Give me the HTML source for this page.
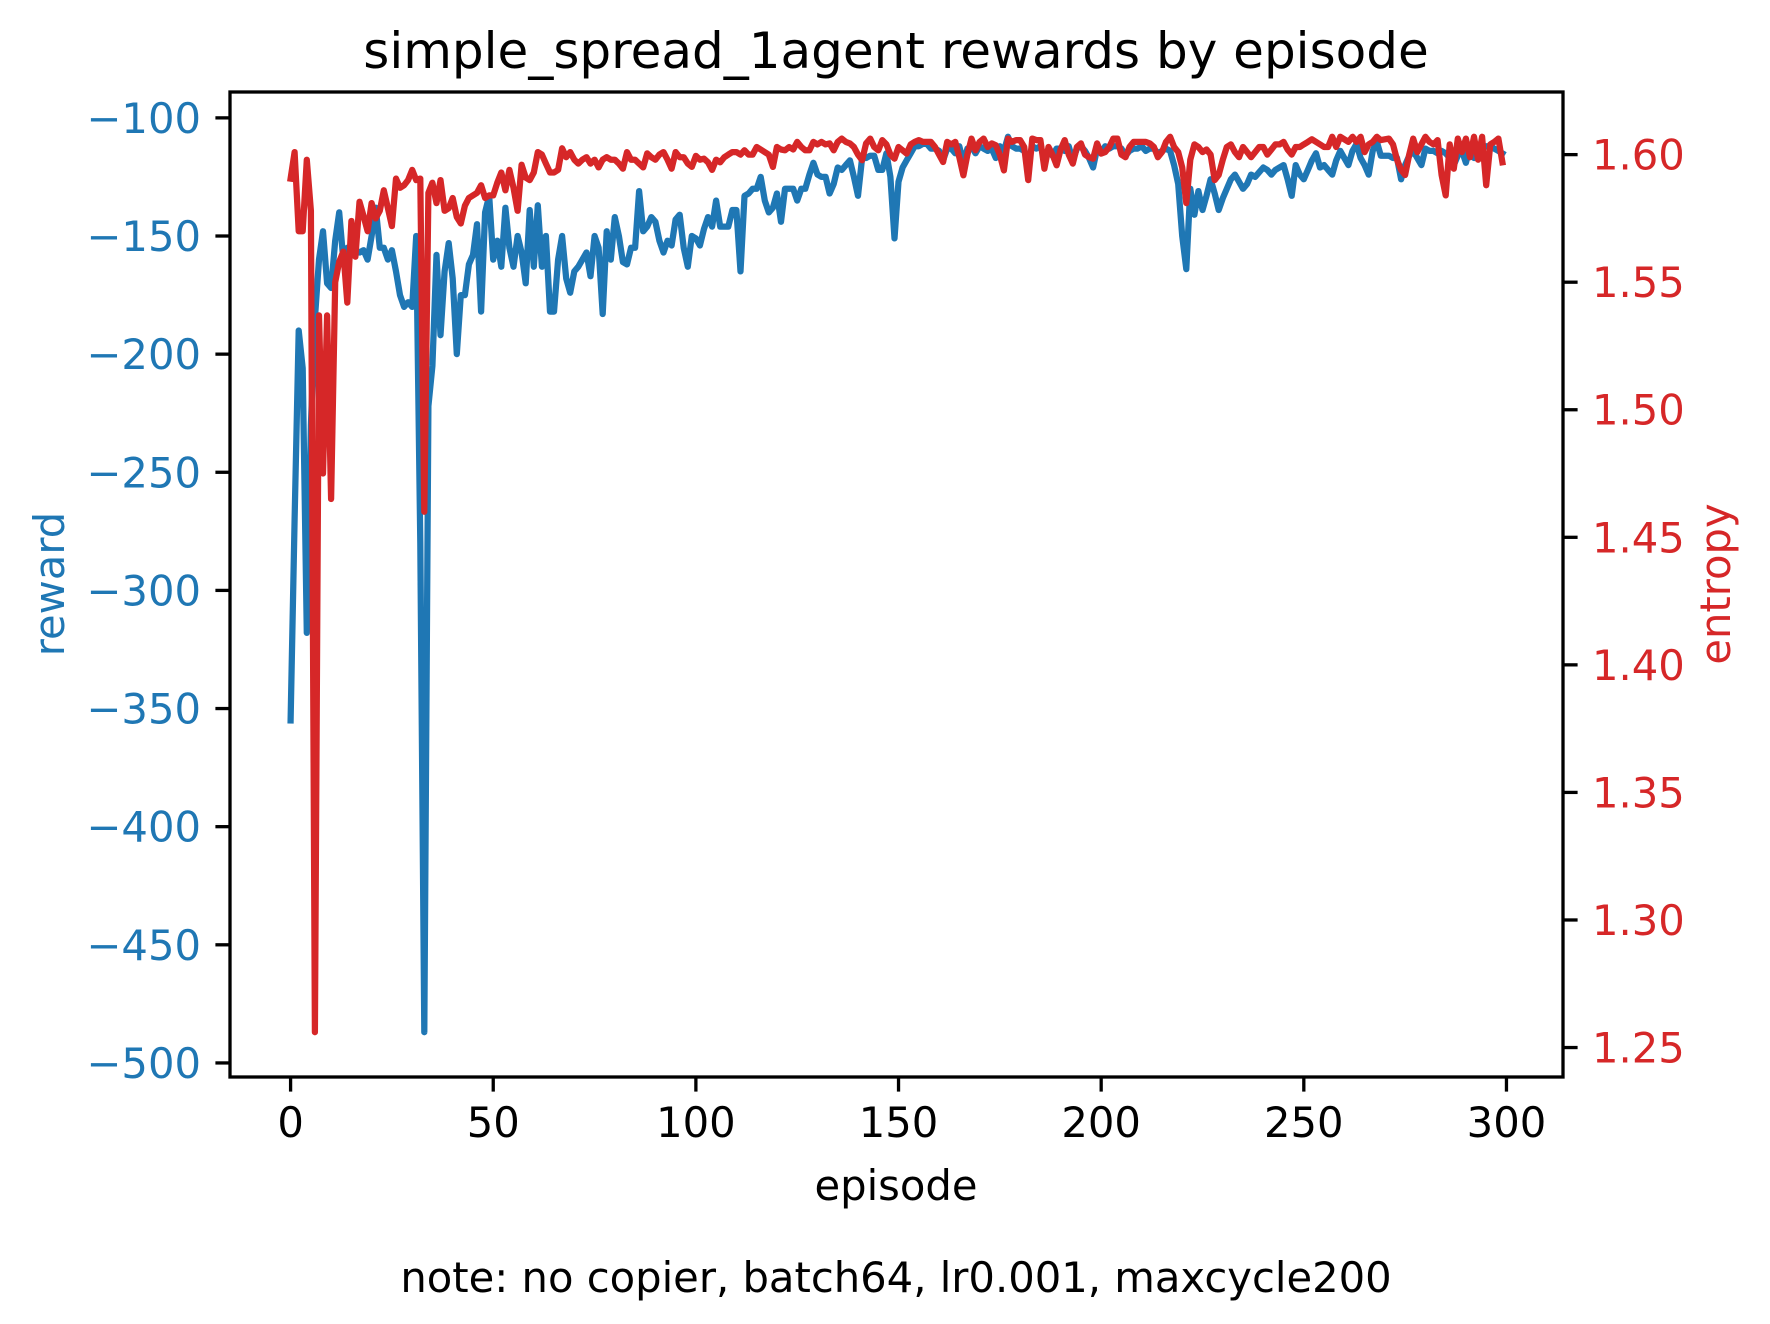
<!DOCTYPE html>
<html><head><meta charset="utf-8"><style>
html,body{margin:0;padding:0;background:#fff;}
svg{display:block;font-family:"DejaVu Sans","Liberation Sans",sans-serif;}
</style></head><body>
<svg id="chart" width="1770" height="1324" viewBox="0 0 1770 1324" xmlns="http://www.w3.org/2000/svg">
<rect width="1770" height="1324" fill="#fff"/>
<text x="896" y="68" font-size="50" text-anchor="middle" fill="#000">simple_spread_1agent rewards by episode</text>
<text x="896" y="1200" font-size="41.7" text-anchor="middle" fill="#000">episode</text>
<text x="896" y="1292" font-size="41.7" text-anchor="middle" fill="#000">note: no copier, batch64, lr0.001, maxcycle200</text>
<text transform="translate(64,584) rotate(-90)" font-size="41.7" text-anchor="middle" fill="#1f77b4">reward</text>
<text transform="translate(1730,584) rotate(-90)" font-size="41.7" text-anchor="middle" fill="#d62728">entropy</text>
<g id="marks"></g>
<g id="axes"></g>
<rect x="230" y="92" width="1333" height="985" fill="none" stroke="#000" stroke-width="3.3"/>
</svg>
<script>
const episodes = Array.from({length:300},(_,i)=>i);
const rewardValues = [
-355,-270,-190,-206,-318,-230,-185,-160,-148,-170,
-172,-152,-140,-160,-155,-156,-156,-157,-156,-160,
-150,-138,-155,-155,-160,-156,-165,-175,-180,-178,
-180,-150,-280,-487,-222,-205,-158,-192,-165,-153,
-168,-200,-175,-175,-162,-158,-145,-182,-140,-133,
-160,-152,-163,-138,-155,-163,-150,-157,-170,-139,
-163,-137,-163,-150,-182,-182,-160,-150,-168,-174,
-165,-163,-160,-157,-167,-150,-155,-183,-148,-160,
-142,-150,-161,-162,-155,-155,-131,-148,-146,-142,
-144,-152,-157,-152,-154,-143,-141,-155,-163,-150,
-151,-154,-147,-142,-146,-135,-146,-146,-146,-139,
-139,-165,-133,-132,-130,-130,-125,-135,-140,-138,
-132,-144,-130,-130,-130,-135,-130,-130,-124,-119,
-124,-125,-125,-132,-128,-121,-122,-120,-118,-125,
-133,-117,-117,-116,-116,-122,-122,-115,-125,-151,
-127,-121,-118,-115,-112,-112,-111,-111,-113,-113,
-114,-118,-113,-113,-115,-112,-119,-113,-112,-115,
-112,-113,-114,-113,-117,-112,-114,-108,-112,-113,
-113,-114,-118,-112,-113,-112,-117,-114,-116,-113,
-113,-114,-112,-118,-113,-112,-114,-117,-121,-113,
-115,-112,-113,-112,-112,-113,-116,-114,-113,-113,
-112,-114,-113,-113,-115,-114,-113,-114,-120,-128,
-150,-164,-130,-141,-131,-139,-133,-126,-132,-139,
-134,-130,-126,-124,-127,-130,-128,-124,-125,-123,
-121,-122,-124,-122,-121,-120,-126,-133,-120,-124,
-126,-122,-118,-115,-121,-120,-122,-124,-118,-114,
-117,-120,-114,-111,-117,-120,-124,-114,-110,-116,
-116,-116,-117,-117,-126,-120,-116,-114,-117,-120,
-113,-114,-114,-115,-114,-115,-117,-120,-116,-114,
-119,-112,-117,-115,-113,-112,-112,-113,-114,-115];
const entropyValues = [
1.5906,1.601,1.570,1.570,1.598,1.578,1.256,1.537,1.475,1.537,
1.465,1.550,1.558,1.562,1.542,1.574,1.560,1.5815,1.576,1.570,
1.581,1.575,1.578,1.586,1.579,1.572,1.5906,1.587,1.588,1.590,
1.594,1.590,1.5906,1.46,1.585,1.589,1.581,1.590,1.578,1.579,
1.583,1.5755,1.573,1.580,1.583,1.584,1.585,1.588,1.583,1.584,
1.584,1.589,1.593,1.586,1.594,1.587,1.578,1.596,1.591,1.590,
1.593,1.601,1.600,1.5965,1.593,1.593,1.594,1.6025,1.599,1.601,
1.598,1.5965,1.598,1.599,1.5965,1.598,1.595,1.598,1.599,1.598,
1.598,1.5965,1.5945,1.601,1.598,1.598,1.5965,1.595,1.6005,1.599,
1.598,1.600,1.601,1.598,1.5945,1.601,1.599,1.599,1.5965,1.5952,
1.5995,1.598,1.5984,1.597,1.594,1.598,1.597,1.599,1.600,1.601,
1.601,1.600,1.6017,1.600,1.600,1.603,1.602,1.601,1.600,1.5952,
1.603,1.602,1.6017,1.603,1.602,1.605,1.603,1.6017,1.6017,1.605,
1.604,1.605,1.604,1.6044,1.6017,1.605,1.6063,1.605,1.6044,1.603,
1.600,1.5978,1.6044,1.6063,1.603,1.6017,1.6057,1.604,1.600,1.5984,
1.603,1.6017,1.6004,1.604,1.605,1.6057,1.605,1.605,1.605,1.603,
1.600,1.5971,1.605,1.604,1.605,1.599,1.5919,1.600,1.6063,1.6017,
1.605,1.6063,1.603,1.6044,1.6037,1.600,1.5938,1.6063,1.605,1.6057,
1.6057,1.603,1.590,1.6063,1.6057,1.6057,1.5945,1.603,1.600,1.5958,
1.602,1.6057,1.600,1.5965,1.603,1.6044,1.600,1.599,1.5984,1.6044,
1.6004,1.601,1.603,1.6063,1.6063,1.600,1.599,1.603,1.605,1.605,
1.605,1.605,1.6044,1.603,1.599,1.601,1.605,1.607,1.603,1.601,
1.595,1.581,1.598,1.604,1.603,1.601,1.602,1.600,1.590,1.592,
1.598,1.603,1.604,1.601,1.599,1.603,1.601,1.599,1.601,1.603,
1.603,1.600,1.602,1.604,1.604,1.605,1.602,1.600,1.603,1.603,
1.604,1.605,1.606,1.605,1.604,1.603,1.603,1.607,1.603,1.607,
1.606,1.605,1.607,1.605,1.607,1.601,1.604,1.605,1.607,1.6057,
1.606,1.6063,1.604,1.598,1.594,1.592,1.600,1.6063,1.601,1.604,
1.607,1.605,1.604,1.6057,1.592,1.584,1.604,1.5945,1.6063,1.601,
1.6063,1.599,1.607,1.598,1.607,1.588,1.604,1.605,1.6063,1.597];
const xTicks = [0,50,100,150,200,250,300];
const rewardTicks = [-100,-150,-200,-250,-300,-350,-400,-450,-500];
const entropyTicks = [1.25,1.30,1.35,1.40,1.45,1.50,1.55,1.60];

const NS="http://www.w3.org/2000/svg";
const L=230,R=1563,T=92,B=1077;
function ext(a){const mn=Math.min(...a),mx=Math.max(...a),m=(mx-mn)*0.05;return [mn-m,mx+m];}
const xd=[-0.05*(episodes.length-1),(episodes.length-1)*1.05];
const rd=ext(rewardValues), ed=ext(entropyValues);
const xS=v=>L+(v-xd[0])/(xd[1]-xd[0])*(R-L);
const rS=v=>B-(v-rd[0])/(rd[1]-rd[0])*(B-T);
const eS=v=>B-(v-ed[0])/(ed[1]-ed[0])*(B-T);
function mk(tag,attrs,parent){const e=document.createElementNS(NS,tag);for(const k in attrs)e.setAttribute(k,attrs[k]);parent.appendChild(e);return e;}
const marks=document.getElementById('marks'), axes=document.getElementById('axes');

const rl=mk('polyline',{points:episodes.map((x,i)=>xS(x).toFixed(1)+','+rS(rewardValues[i]).toFixed(1)).join(' '),fill:'none',stroke:'#1f77b4','stroke-width':6.25,'stroke-linejoin':'round','stroke-linecap':'square'},marks);


const el=mk('polyline',{points:episodes.map((x,i)=>xS(x).toFixed(1)+','+eS(entropyValues[i]).toFixed(1)).join(' '),fill:'none',stroke:'#d62728','stroke-width':6.25,'stroke-linejoin':'round','stroke-linecap':'square'},marks);



xTicks.forEach(t=>{const x=xS(t);
 const l=mk('line',{x1:x,x2:x,y1:B,y2:B+14.6,stroke:'#000','stroke-width':3.3},axes);
 
 
 const tx=mk('text',{x:x,y:B+60,'font-size':41.7,'text-anchor':'middle',fill:'#000'},axes);tx.textContent=t;
 
 
});
rewardTicks.forEach(t=>{const y=rS(t);
 const l=mk('line',{x1:L-14.6,x2:L,y1:y,y2:y,stroke:'#000','stroke-width':3.3},axes);
 
 
 const tx=mk('text',{x:L-29,y:y+15,'font-size':41.7,'text-anchor':'end',fill:'#1f77b4'},axes);tx.textContent='\u2212'+Math.abs(t);
 
 
});
entropyTicks.forEach(t=>{const y=eS(t);
 const l=mk('line',{x1:R,x2:R+14.6,y1:y,y2:y,stroke:'#000','stroke-width':3.3},axes);
 
 
 const tx=mk('text',{x:R+29,y:y+15,'font-size':41.7,'text-anchor':'start',fill:'#d62728'},axes);tx.textContent=t.toFixed(2);
 
 
});
</script>
</body></html>
